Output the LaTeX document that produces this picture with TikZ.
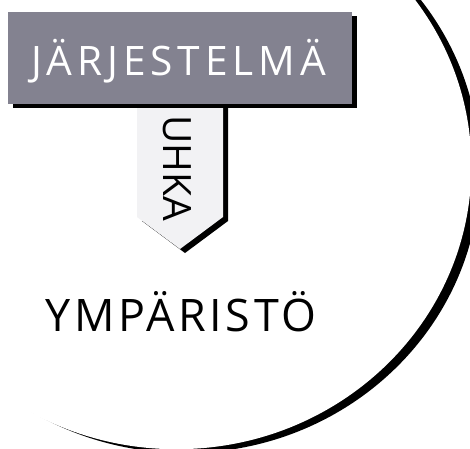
\documentclass[tikz,border=0pt]{standalone}
\usepackage{fontspec}
\setmainfont{Open Sans}
\newfontfamily\boxfont[LetterSpace=12]{Open Sans}
\newfontfamily\envfont[LetterSpace=8]{Open Sans}
\newfontfamily\threatfont{Open Sans}
\definecolor{boxgray}{RGB}{131,130,144}
\definecolor{bannergray}{RGB}{242,242,244}
\tikzset{
  shadowfill/.style={fill=black, draw=none},
  boxlabel/.style={font=\boxfont\fontsize{40.6}{44}\selectfont, text=white, inner sep=0pt, anchor=base},
  envlabel/.style={font=\envfont\fontsize{44.8}{48}\selectfont, text=black, inner sep=0pt, anchor=base},
  threatlabel/.style={font=\threatfont\fontsize{39}{42}\selectfont, text=black, inner sep=0pt, anchor=base, rotate=-90}
}
\begin{document}
\begin{tikzpicture}[x=1pt,y=-1pt]
\useasboundingbox (0,0) rectangle (470,448);
\clip (0,0) rectangle (470,448);
\fill[white] (0,0) rectangle (470,448);
% environment circle with shadow crescent
\fill[black] (185,170) ellipse [x radius=295, y radius=283];
\fill[white] (176.4,166.2) ellipse [x radius=295, y radius=283];
% threat banner
\fill[shadowfill] (142,108) -- (228,108) -- (228,221) -- (185,253) -- (142,221) -- cycle;
\fill[bannergray] (137,104) -- (223,104) -- (223,217) -- (180,249) -- (137,217) -- cycle;
% system box
\fill[shadowfill] (13,16) rectangle (357,108);
\fill[boxgray] (8,12) rectangle (352,104);
\node[boxlabel] (sys) at (178.5,75) {JÄRJESTELMÄ};
\node[threatlabel] (threat) at (163,168) {UHKA};
\node[envlabel] (env) at (181,331) {YMPÄRISTÖ};
\end{tikzpicture}
\end{document}
